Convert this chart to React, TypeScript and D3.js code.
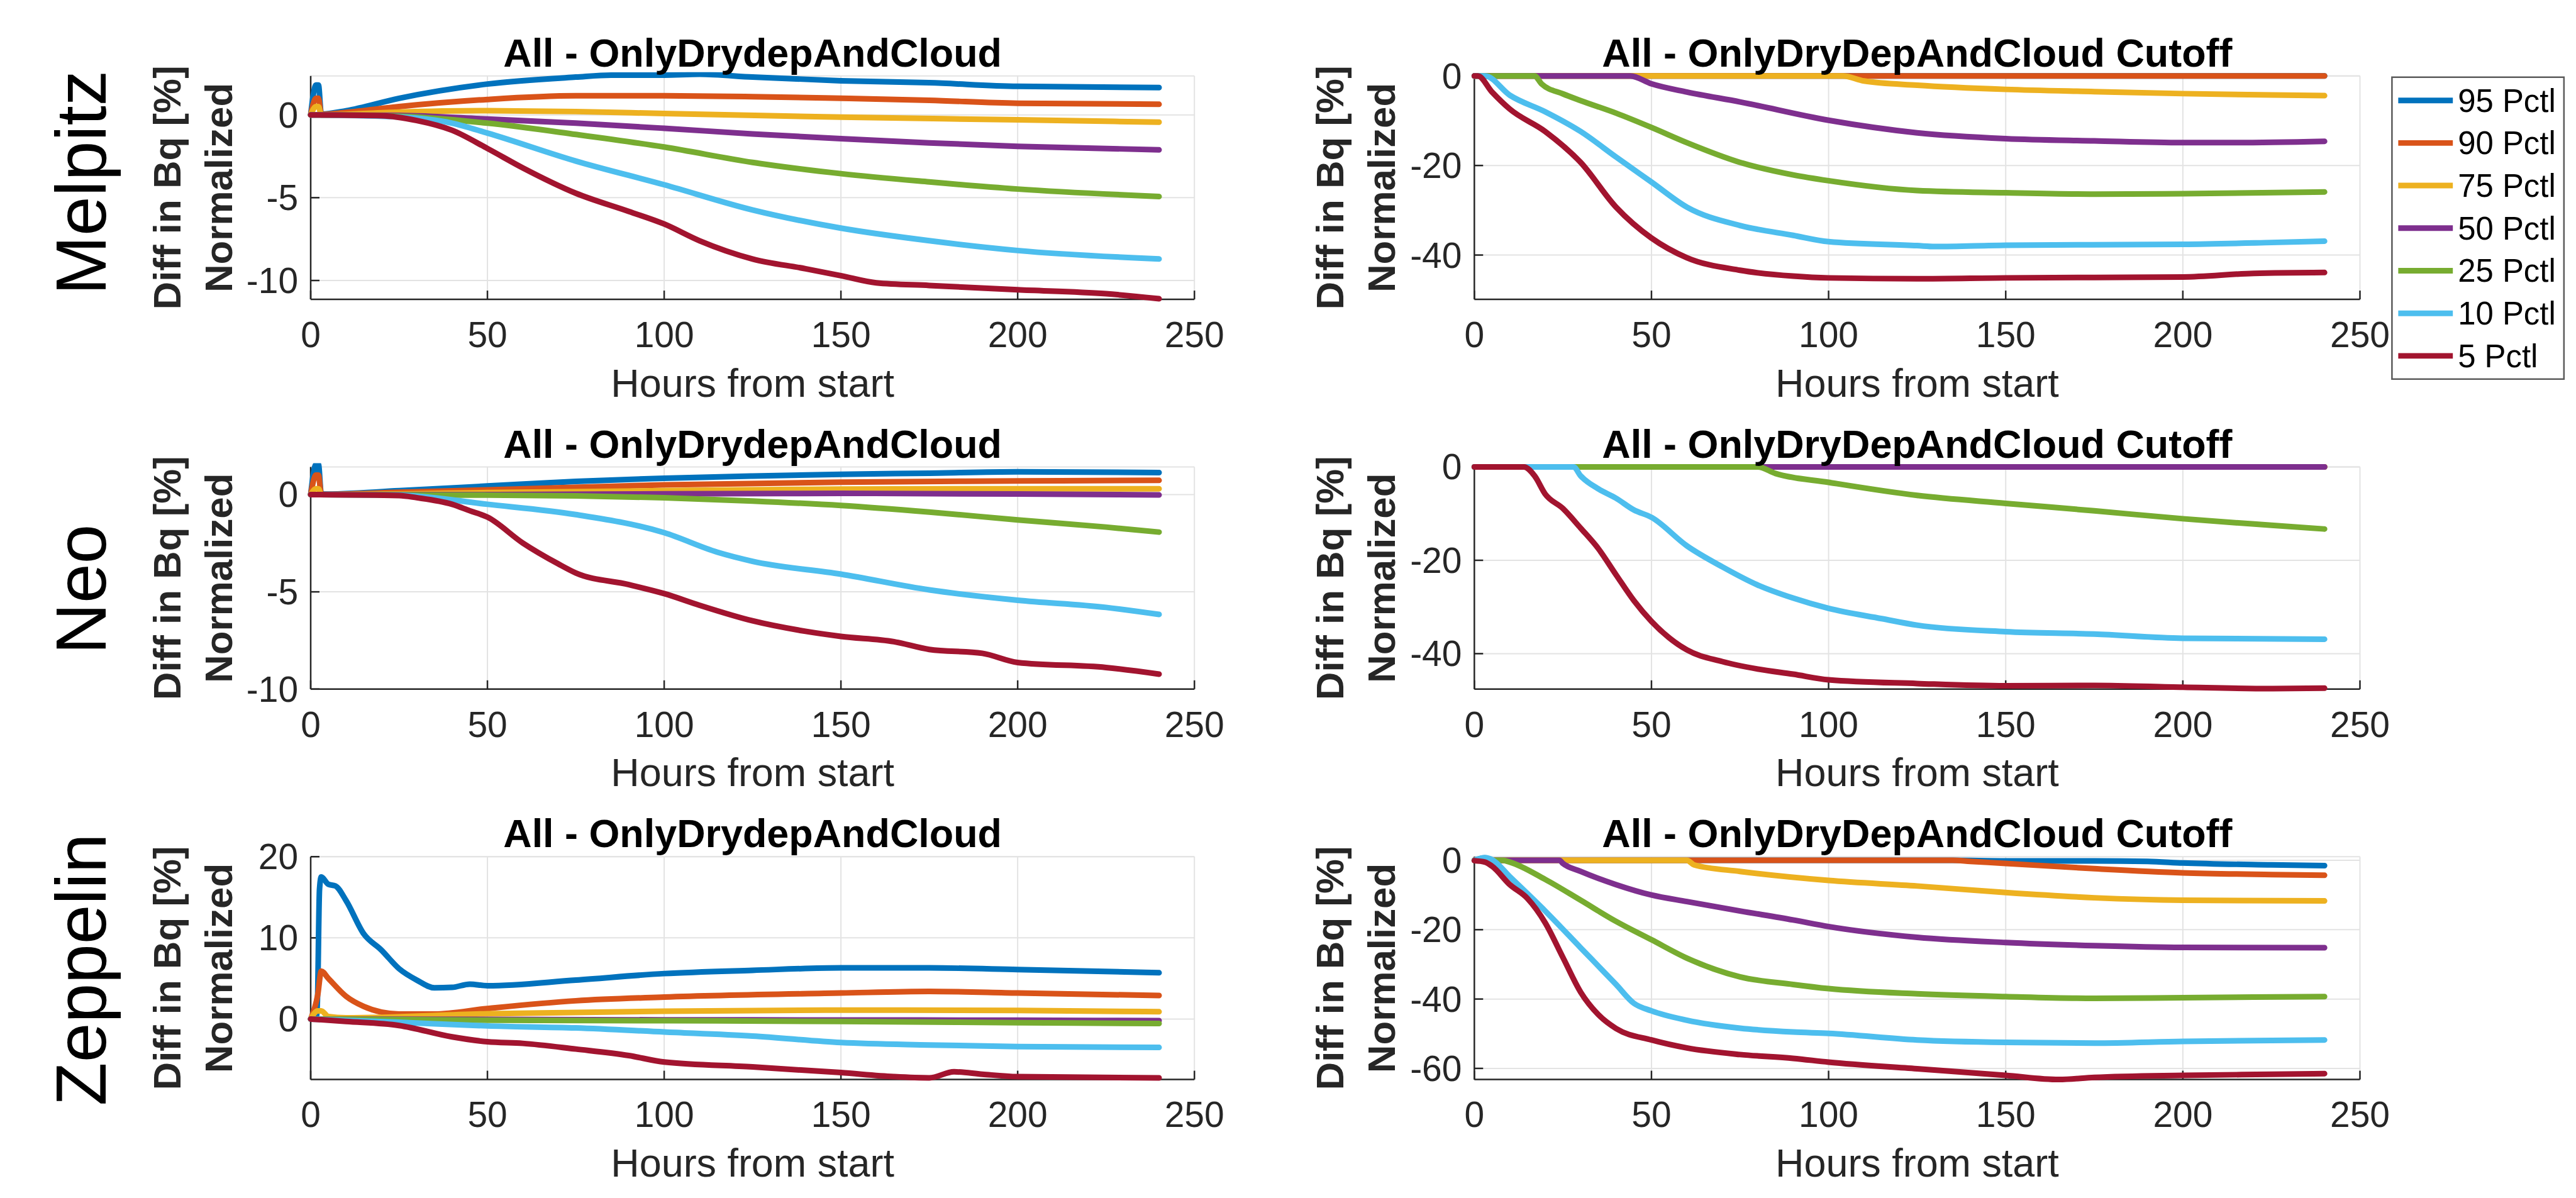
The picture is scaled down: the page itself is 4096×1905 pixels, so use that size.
import React from "react";
import * as d3 from "d3";

// ---- data (hours, percent) ----
const seriesNames = ["95 Pctl", "90 Pctl", "75 Pctl", "50 Pctl", "25 Pctl", "10 Pctl", "5 Pctl"];
const seriesColors = ["#0072BD", "#D95319", "#EDB120", "#7E2F8E", "#77AC30", "#4DBEEE", "#A2142F"];
const rowNames = ["Melpitz", "Neo", "Zeppelin"];
const xTicks = [0, 50, 100, 150, 200, 250];

// Melpitz, All - OnlyDrydepAndCloud
const melAll95 = [[0, 0], [1.5, 1.8], [2.2, 1.8], [3, 0.05], [10, 0.25], [25, 1.0], [50, 1.86], [75, 2.28], [85, 2.4], [100, 2.4], [110, 2.45], [125, 2.28], [150, 2.06], [175, 1.94], [200, 1.72], [240, 1.65]];
const melAll90 = [[0, 0], [1.5, 1.0], [2.2, 1.0], [3, 0.03], [10, 0.15], [25, 0.5], [50, 0.93], [75, 1.15], [100, 1.15], [125, 1.1], [150, 1.0], [175, 0.88], [200, 0.7], [240, 0.64]];
const melAll75 = [[0, 0], [1.5, 0.5], [2.2, 0.5], [3, 0], [25, 0.17], [50, 0.25], [75, 0.2], [100, 0.08], [150, -0.14], [200, -0.3], [240, -0.44]];
const melAll50 = [[0, 0], [25, -0.03], [50, -0.25], [75, -0.5], [100, -0.81], [125, -1.15], [150, -1.44], [175, -1.69], [200, -1.9], [240, -2.11]];
const melAll25 = [[0, 0], [25, -0.08], [50, -0.5], [75, -1.18], [100, -1.94], [125, -2.87], [150, -3.55], [175, -4.05], [200, -4.48], [240, -4.93]];
const melAll10 = [[0, 0], [25, -0.13], [40, -0.5], [50, -1.1], [75, -2.79], [100, -4.22], [125, -5.74], [150, -6.84], [175, -7.6], [200, -8.19], [240, -8.7]];
const melAll5 = [[0, 0], [20, -0.05], [30, -0.34], [40, -0.93], [50, -2.03], [60, -3.2], [75, -4.73], [90, -5.83], [100, -6.59], [110, -7.6], [125, -8.7], [140, -9.29], [150, -9.71], [160, -10.14], [175, -10.3], [200, -10.56], [225, -10.8], [240, -11.1]];

// Melpitz, Cutoff
const melCut95 = [[0, 0], [240, 0]];
const melCut90 = [[0, 0], [240, 0]];
const melCut75 = [[0, 0], [104, 0], [110, -1.13], [125, -2.07], [150, -3.0], [175, -3.5], [200, -3.95], [225, -4.26], [240, -4.4]];
const melCut50 = [[0, 0], [44, 0], [50, -1.76], [60, -3.6], [75, -5.8], [100, -9.9], [125, -12.7], [150, -14.0], [175, -14.5], [200, -14.9], [215, -14.9], [240, -14.6]];
const melCut25 = [[0, 0], [17, 0], [19, -1.8], [25, -4.0], [30, -5.5], [40, -8.3], [50, -11.5], [60, -14.9], [75, -19.3], [90, -22.1], [100, -23.4], [125, -25.6], [150, -26.1], [175, -26.4], [200, -26.3], [240, -25.9]];
const melCut10 = [[0, 0], [3, 0], [10, -4.3], [20, -8.0], [30, -12.4], [40, -18.1], [50, -23.7], [60, -29.3], [75, -33.4], [90, -35.6], [100, -37.0], [125, -37.9], [130, -38.1], [150, -37.8], [200, -37.6], [225, -37.2], [240, -36.9]];
const melCut5 = [[0, 0], [1, 0], [5, -3.6], [10, -7.4], [20, -12.4], [30, -19.3], [40, -29.3], [50, -36.2], [60, -40.6], [75, -43.4], [90, -44.7], [100, -45.1], [125, -45.3], [150, -45.1], [175, -45.0], [200, -44.9], [220, -44.1], [240, -43.9]];

// Neo, All - OnlyDrydepAndCloud
const neoAll95 = [[0, 0], [1.5, 1.55], [2.2, 1.55], [3, 0.02], [25, 0.2], [50, 0.44], [75, 0.68], [100, 0.84], [125, 0.95], [150, 1.04], [175, 1.1], [200, 1.17], [240, 1.13]];
const neoAll90 = [[0, 0], [1.5, 1.0], [2.2, 1.0], [3, 0.01], [25, 0.12], [50, 0.24], [100, 0.5], [150, 0.64], [200, 0.7], [240, 0.73]];
const neoAll75 = [[0, 0], [1.5, 0.3], [2.2, 0.3], [3, 0], [50, 0.1], [100, 0.2], [150, 0.28], [200, 0.3], [240, 0.3]];
const neoAll50 = [[0, 0], [50, 0], [100, 0.04], [150, 0.06], [200, 0.03], [240, -0.02]];
const neoAll25 = [[0, 0], [25, -0.02], [50, -0.03], [75, -0.07], [100, -0.16], [125, -0.33], [150, -0.56], [175, -0.9], [200, -1.3], [225, -1.67], [240, -1.93]];
const neoAll10 = [[0, 0], [25, -0.03], [50, -0.5], [75, -1.03], [100, -1.96], [115, -2.96], [125, -3.43], [150, -4.09], [175, -4.9], [200, -5.43], [225, -5.8], [240, -6.16]];
const neoAll5 = [[0, 0], [25, -0.05], [30, -0.16], [40, -0.5], [45, -0.83], [50, -1.16], [60, -2.49], [70, -3.56], [75, -4.03], [90, -4.63], [100, -5.09], [110, -5.69], [125, -6.49], [140, -7.03], [150, -7.29], [165, -7.56], [175, -7.96], [190, -8.16], [200, -8.63], [225, -8.89], [240, -9.23]];

// Neo, Cutoff
const neoCut95 = [[0, 0], [240, 0]];
const neoCut90 = [[0, 0], [240, 0]];
const neoCut75 = [[0, 0], [240, 0]];
const neoCut50 = [[0, 0], [240, 0]];
const neoCut25 = [[0, 0], [80, 0], [85, -1.4], [100, -3.3], [125, -6.1], [150, -7.8], [175, -9.4], [200, -11.1], [225, -12.5], [240, -13.3]];
const neoCut10 = [[0, 0], [28, 0], [30, -1.9], [35, -4.7], [40, -6.7], [45, -9.2], [50, -10.8], [60, -16.9], [70, -21.4], [80, -25.3], [90, -28.1], [100, -30.3], [115, -32.5], [125, -33.9], [150, -35.3], [175, -35.8], [200, -36.7], [240, -36.9]];
const neoCut5 = [[0, 0], [14, 0], [17, -1.9], [20, -5.8], [25, -8.9], [30, -13.1], [35, -17.5], [40, -23.1], [45, -28.6], [50, -33.1], [60, -39.2], [70, -41.7], [80, -43.3], [90, -44.4], [100, -45.6], [125, -46.4], [150, -46.9], [175, -46.8], [200, -47.2], [225, -47.5], [240, -47.4]];

// Zeppelin, All - OnlyDrydepAndCloud
const zepAll95 = [[0, 0], [1.8, 0.5], [2.5, 16], [3, 17.5], [5, 16.6], [7, 16.4], [10, 14.6], [15, 10.5], [20, 8.5], [25, 6.2], [30, 4.8], [35, 3.85], [40, 3.9], [45, 4.3], [50, 4.1], [75, 4.8], [100, 5.6], [125, 6.0], [150, 6.3], [175, 6.3], [200, 6.1], [240, 5.7]];
const zepAll90 = [[0, 0], [2, 3], [3, 5.9], [5, 5.0], [10, 2.8], [15, 1.55], [20, 0.85], [25, 0.62], [35, 0.62], [50, 1.3], [75, 2.25], [100, 2.7], [150, 3.2], [175, 3.4], [200, 3.2], [240, 2.9]];
const zepAll75 = [[0, 0], [2, 1.0], [3, 1.0], [5, 0.3], [10, 0.15], [50, 0.65], [100, 0.97], [150, 1.1], [200, 1.06], [240, 0.9]];
const zepAll50 = [[0, 0], [50, -0.05], [100, -0.1], [150, -0.12], [200, -0.15], [240, -0.2]];
const zepAll25 = [[0, 0], [50, -0.15], [100, -0.2], [150, -0.3], [200, -0.45], [240, -0.55]];
const zepAll10 = [[0, 0], [25, -0.4], [50, -0.85], [75, -1.1], [100, -1.6], [125, -2.1], [150, -2.9], [175, -3.2], [200, -3.4], [240, -3.5]];
const zepAll5 = [[0, 0], [10, -0.3], [25, -0.8], [40, -2.2], [50, -2.8], [60, -3.0], [75, -3.7], [90, -4.5], [100, -5.3], [125, -5.9], [150, -6.6], [165, -7.1], [175, -7.25], [182, -6.5], [190, -6.8], [200, -7.1], [240, -7.25]];

// Zeppelin, Cutoff
const zepCut95 = [[0, 0], [3, 0.7], [5, 0], [135, 0], [150, -0.15], [175, -0.15], [190, -0.3], [200, -0.76], [225, -1.3], [240, -1.52]];
const zepCut90 = [[0, 0], [135, 0], [140, -0.3], [150, -0.9], [175, -2.4], [200, -3.6], [225, -4.1], [240, -4.3]];
const zepCut75 = [[0, 0], [60, 0], [62, -1.3], [75, -3.2], [100, -5.8], [125, -7.4], [150, -9.3], [175, -10.8], [200, -11.5], [240, -11.7]];
const zepCut50 = [[0, 0], [24, 0], [25, -0.9], [30, -3.2], [40, -7.0], [50, -10.0], [60, -11.9], [75, -14.6], [90, -17.2], [100, -19.1], [125, -22.2], [150, -23.7], [175, -24.6], [200, -25.1], [240, -25.2]];
const zepCut25 = [[0, 0], [8, 0], [10, -0.5], [20, -5.5], [30, -11.5], [40, -17.6], [50, -22.9], [60, -28.2], [75, -33.6], [90, -35.8], [100, -37.0], [125, -38.5], [150, -39.3], [175, -39.8], [200, -39.6], [240, -39.3]];
const zepCut10 = [[0, 0], [3, 0.8], [5, 0.2], [10, -4.7], [20, -14.6], [30, -25.2], [40, -35.8], [45, -41.2], [50, -43.4], [60, -46.1], [75, -48.4], [90, -49.5], [100, -49.9], [125, -51.8], [150, -52.5], [175, -52.7], [200, -52.2], [240, -51.8]];
const zepCut5 = [[0, -0.1], [3, -0.5], [5, -1.7], [10, -7.0], [15, -11], [20, -18], [25, -28], [30, -38], [35, -44.5], [40, -48.5], [50, -51.8], [60, -54.1], [75, -56.0], [90, -57.1], [100, -58.2], [125, -60.1], [150, -62.0], [165, -63.2], [175, -62.6], [200, -62.0], [225, -61.7], [240, -61.5]];

const titleAll = "All - OnlyDrydepAndCloud";
const titleCut = "All - OnlyDryDepAndCloud Cutoff";

// ---- layout (reference pixels) ----
const colX = [[495, 1903], [2349, 3760]];
const rowY = [[121, 477], [744, 1098], [1365, 1720]];
const rowNameY = [291, 939, 1545];
const ylabX = [[288, 370], [2140, 2222]];
const FONT = "'Liberation Sans', Arial, Helvetica, sans-serif";
const AXC = "#262626";
const GRID = "#e3e3e3";

const panels = [
  { row: 0, col: 0, title: titleAll, yDomain: [-11.14, 2.35], yTicks: [-10, -5, 0], data: [melAll95, melAll90, melAll75, melAll50, melAll25, melAll10, melAll5] },
  { row: 0, col: 1, title: titleCut, yDomain: [-49.9, 0], yTicks: [-40, -20, 0], data: [melCut95, melCut90, melCut75, melCut50, melCut25, melCut10, melCut5] },
  { row: 1, col: 0, title: titleAll, yDomain: [-10, 1.42], yTicks: [-10, -5, 0], data: [neoAll95, neoAll90, neoAll75, neoAll50, neoAll25, neoAll10, neoAll5] },
  { row: 1, col: 1, title: titleCut, yDomain: [-47.6, 0], yTicks: [-40, -20, 0], data: [neoCut95, neoCut90, neoCut75, neoCut50, neoCut25, neoCut10, neoCut5] },
  { row: 2, col: 0, title: titleAll, yDomain: [-7.45, 20], yTicks: [0, 10, 20], data: [zepAll95, zepAll90, zepAll75, zepAll50, zepAll25, zepAll10, zepAll5] },
  { row: 2, col: 1, title: titleCut, yDomain: [-63.2, 1.05], yTicks: [-60, -40, -20, 0], data: [zepCut95, zepCut90, zepCut75, zepCut50, zepCut25, zepCut10, zepCut5] },
];

const Panel = ({ p, idx }) => {
  const [x0, x1] = colX[p.col];
  const [y0, y1] = rowY[p.row];
  const x = d3.scaleLinear().domain([0, 250]).range([x0, x1]);
  const y = d3.scaleLinear().domain(p.yDomain).range([y1, y0]);
  const line = d3
    .line()
    .x((d) => x(d[0]))
    .y((d) => y(d[1]))
    .curve(d3.curveMonotoneX);
  const cx = (x0 + x1) / 2;
  const cy = (y0 + y1) / 2;
  const tick = 14;

  return (
    <g>
      <defs>
        <clipPath id={`clip${idx}`}>
          <rect x={x0 - 5} y={y0 - 6} width={x1 - x0 + 10} height={y1 - y0 + 12} />
        </clipPath>
      </defs>
      {/* grid */}
      {xTicks.slice(1).map((t) => (
        <line key={"gx" + t} x1={x(t)} x2={x(t)} y1={y0} y2={y1} stroke={GRID} strokeWidth={2} />
      ))}
      {p.yTicks.map((t) => (
        <line key={"gy" + t} x1={x0} x2={x1} y1={y(t)} y2={y(t)} stroke={GRID} strokeWidth={2} />
      ))}
      <line x1={x0} x2={x1} y1={y0} y2={y0} stroke={GRID} strokeWidth={2} />
      {/* axes */}
      <line x1={x0} x2={x0} y1={y0} y2={y1} stroke={AXC} strokeWidth={2.5} />
      <line x1={x0} x2={x1} y1={y1} y2={y1} stroke={AXC} strokeWidth={2.5} />
      {xTicks.map((t) => (
        <line key={"tx" + t} x1={x(t)} x2={x(t)} y1={y1} y2={y1 - tick} stroke={AXC} strokeWidth={2.5} />
      ))}
      {p.yTicks.map((t) => (
        <line key={"ty" + t} x1={x0} x2={x0 + tick} y1={y(t)} y2={y(t)} stroke={AXC} strokeWidth={2.5} />
      ))}
      {/* series */}
      <g clipPath={`url(#clip${idx})`}>
        {p.data.map((s, i) => (
          <path key={i} d={line(s)} fill="none" stroke={seriesColors[i]} strokeWidth={9} strokeLinejoin="round" strokeLinecap="round" />
        ))}
      </g>
      {/* tick labels */}
      {xTicks.map((t) => (
        <text key={"lx" + t} x={x(t)} y={y1 + 76} textAnchor="middle" fontSize={57} fill={AXC}>
          {t}
        </text>
      ))}
      {p.yTicks.map((t) => (
        <text key={"ly" + t} x={x0 - 20} y={y(t) + 20} textAnchor="end" fontSize={57} fill={AXC}>
          {t}
        </text>
      ))}
      <text x={cx} y={y1 + 155} textAnchor="middle" fontSize={63} fill={AXC}>
        Hours from start
      </text>
      <text x={cx} y={y0 - 15} textAnchor="middle" fontSize={63} fontWeight="bold" fill="#000">
        {p.title}
      </text>
      <text transform={`translate(${ylabX[p.col][0]},${cy}) rotate(-90)`} textAnchor="middle" fontSize={62} fontWeight="bold" fill={AXC}>
        Diff in Bq [%]
      </text>
      <text transform={`translate(${ylabX[p.col][1]},${cy}) rotate(-90)`} textAnchor="middle" fontSize={62} fontWeight="bold" fill={AXC}>
        Normalized
      </text>
    </g>
  );
};

const Legend = () => {
  const lx = 3811;
  const ly = 123;
  const ys = d3.scaleLinear().domain([0, 6]).range([160, 567]);
  return (
    <g>
      <rect x={lx} y={ly} width={274} height={481} fill="#fff" stroke="#5a5a5a" strokeWidth={2.5} />
      {seriesNames.map((n, i) => (
        <g key={n}>
          <line x1={3821} x2={3908} y1={ys(i)} y2={ys(i)} stroke={seriesColors[i]} strokeWidth={9} />
          <text x={3916} y={ys(i) + 18} fontSize={51} fill="#000">
            {n}
          </text>
        </g>
      ))}
    </g>
  );
};

export default function App() {
  const k = 0.998;
  return (
    <svg
      width={4096}
      height={1905}
      viewBox={`0 0 4096 1905`}
      style={{ position: "absolute", left: 0, top: 0, background: "#fff" }}
      fontFamily={FONT}
    >
      <rect x={0} y={0} width={4096} height={1905} fill="#fff" />
      <g transform={`scale(${k})`}>
        {rowNames.map((n, i) => (
          <text key={n} transform={`translate(168,${rowNameY[i]}) rotate(-90)`} textAnchor="middle" fontSize={113} fill="#000">
            {n}
          </text>
        ))}
        {panels.map((p, i) => (
          <Panel key={i} p={p} idx={i} />
        ))}
        <Legend />
      </g>
    </svg>
  );
}
